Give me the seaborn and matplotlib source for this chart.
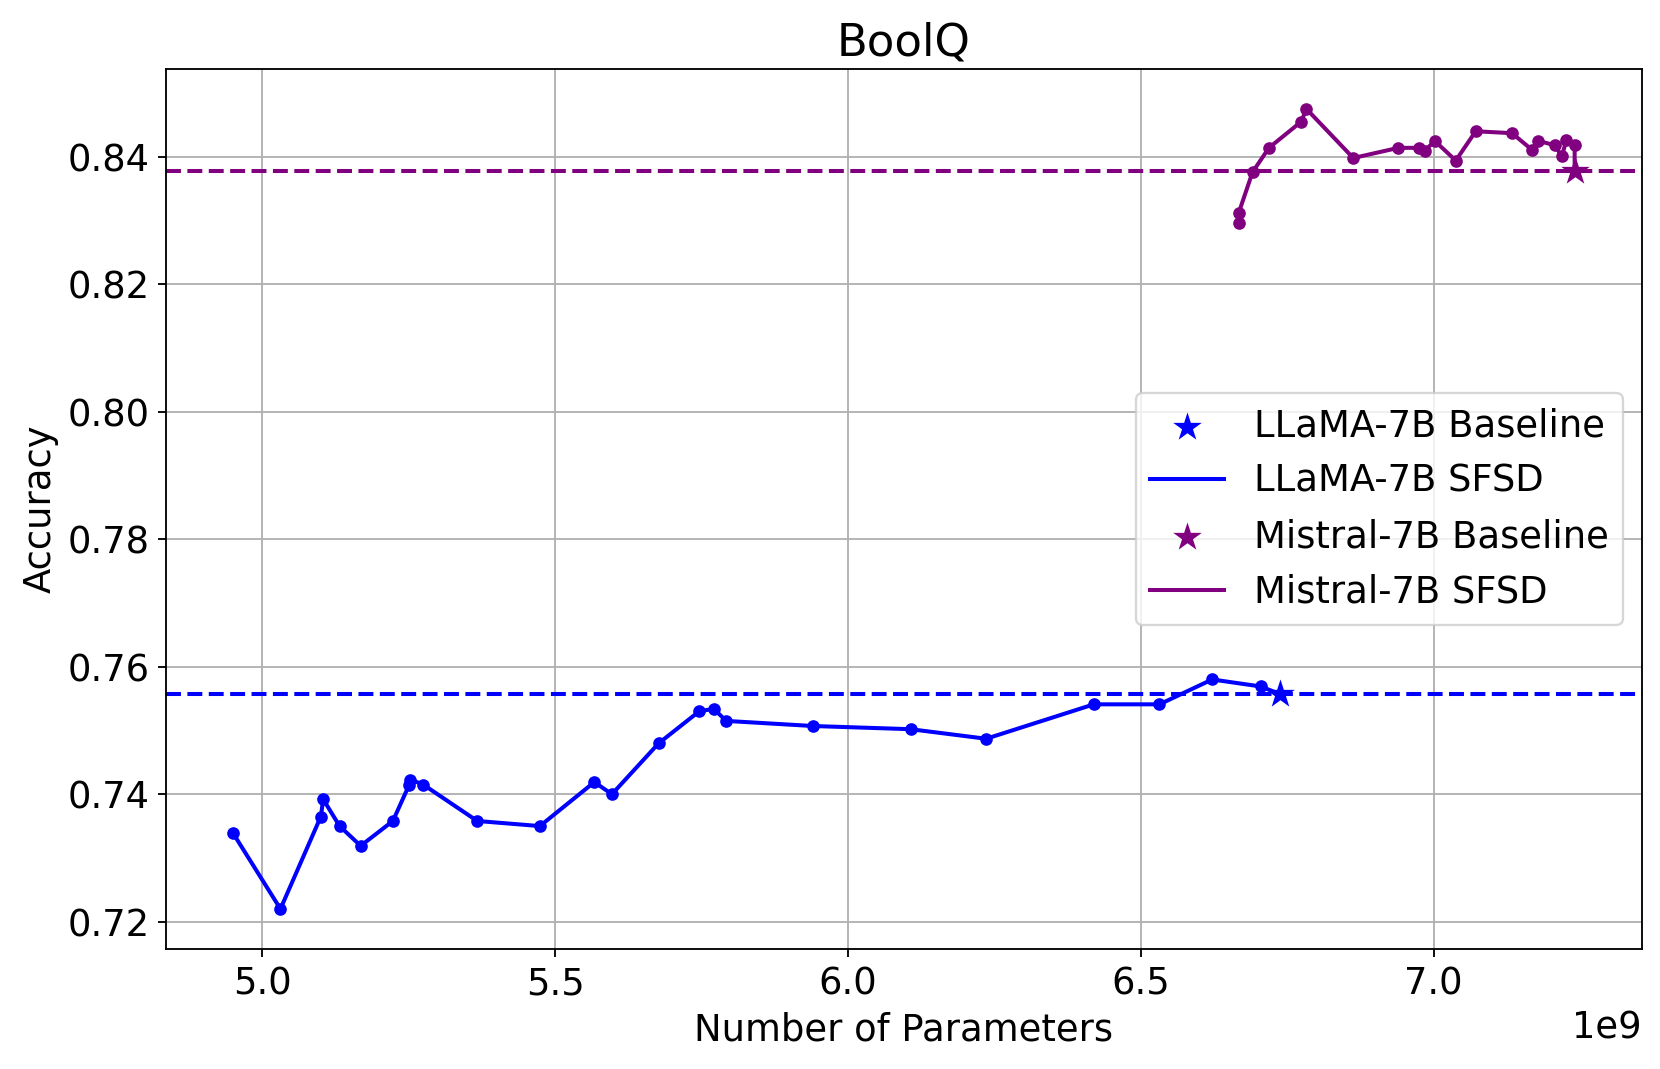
import matplotlib

matplotlib.use("Agg")
import matplotlib.pyplot as plt
import seaborn as sns

# values (x in parameters, y in accuracy)
llama_params = [
    4.950e9, 5.031e9, 5.100e9, 5.104e9, 5.132e9, 5.168e9, 5.223e9, 5.251e9,
    5.253e9, 5.275e9, 5.367e9, 5.474e9, 5.567e9, 5.597e9, 5.677e9, 5.746e9,
    5.771e9, 5.792e9, 5.940e9, 6.107e9, 6.236e9, 6.420e9, 6.532e9, 6.622e9,
    6.705e9,
]
llama_acc = [
    0.7339, 0.7220, 0.7365, 0.7392, 0.7350, 0.7319, 0.7358, 0.7415,
    0.7423, 0.7415, 0.7358, 0.7350, 0.7419, 0.7400, 0.7480, 0.7530,
    0.7534, 0.7515, 0.7507, 0.7502, 0.7487, 0.7541, 0.7541, 0.7580,
    0.7569,
]
llama_base_params = 6.738e9
llama_base_acc = 0.7557

mistral_params = [
    6.667e9, 6.667e9, 6.691e9, 6.719e9, 6.774e9, 6.783e9, 6.863e9, 6.940e9,
    6.976e9, 6.985e9, 7.002e9, 7.038e9, 7.072e9, 7.134e9, 7.168e9, 7.179e9,
    7.207e9, 7.219e9, 7.227e9, 7.241e9,
]
mistral_acc = [
    0.8296, 0.8311, 0.8376, 0.8414, 0.8455, 0.8475, 0.8398, 0.8414,
    0.8414, 0.8409, 0.8425, 0.8394, 0.8440, 0.8437, 0.8411, 0.8425,
    0.8418, 0.8401, 0.8426, 0.8418,
]
mistral_base_params = 7.241e9
mistral_base_acc = 0.8378

models = [
    ("LLaMA-7B", "blue", llama_params, llama_acc, llama_base_params, llama_base_acc),
    ("Mistral-7B", "purple", mistral_params, mistral_acc, mistral_base_params, mistral_base_acc),
]

plt.rcParams["font.family"] = ["DejaVu Sans"]
fig, ax = plt.subplots(figsize=(1661 / 166, 1069 / 166), dpi=166)
fig.subplots_adjust(left=0.0999, right=0.9884, bottom=0.1123, top=0.9355)

for name, color, xs, ys, bx, by in models:
    ax.axhline(by, color=color, linestyle="--", linewidth=1.75)
    sns.scatterplot(x=[bx], y=[by], marker="*", s=170, color=color, linewidth=0,
                    label=f"{name} Baseline", zorder=4, ax=ax)
    # the SFSD curve runs into the full model
    sns.lineplot(x=xs + [bx], y=ys + [by], color=color, linewidth=1.75, estimator=None,
                 sort=False, label=f"{name} SFSD", ax=ax)
    sns.scatterplot(x=xs, y=ys, color=color, s=30, linewidth=0, legend=False, zorder=3, ax=ax)

ax.grid(True, color="#b0b0b0", linewidth=0.8)
ax.set_axisbelow(True)
ax.set_title("BoolQ", fontsize=19.5)
ax.set_xlabel("Number of Parameters", fontsize=16)
ax.set_ylabel("Accuracy", fontsize=16)
ax.tick_params(labelsize=16)
ax.xaxis.get_offset_text().set_fontsize(16)
ax.legend(loc="center right", fontsize=16)

fig.savefig("out.png", dpi=166)
